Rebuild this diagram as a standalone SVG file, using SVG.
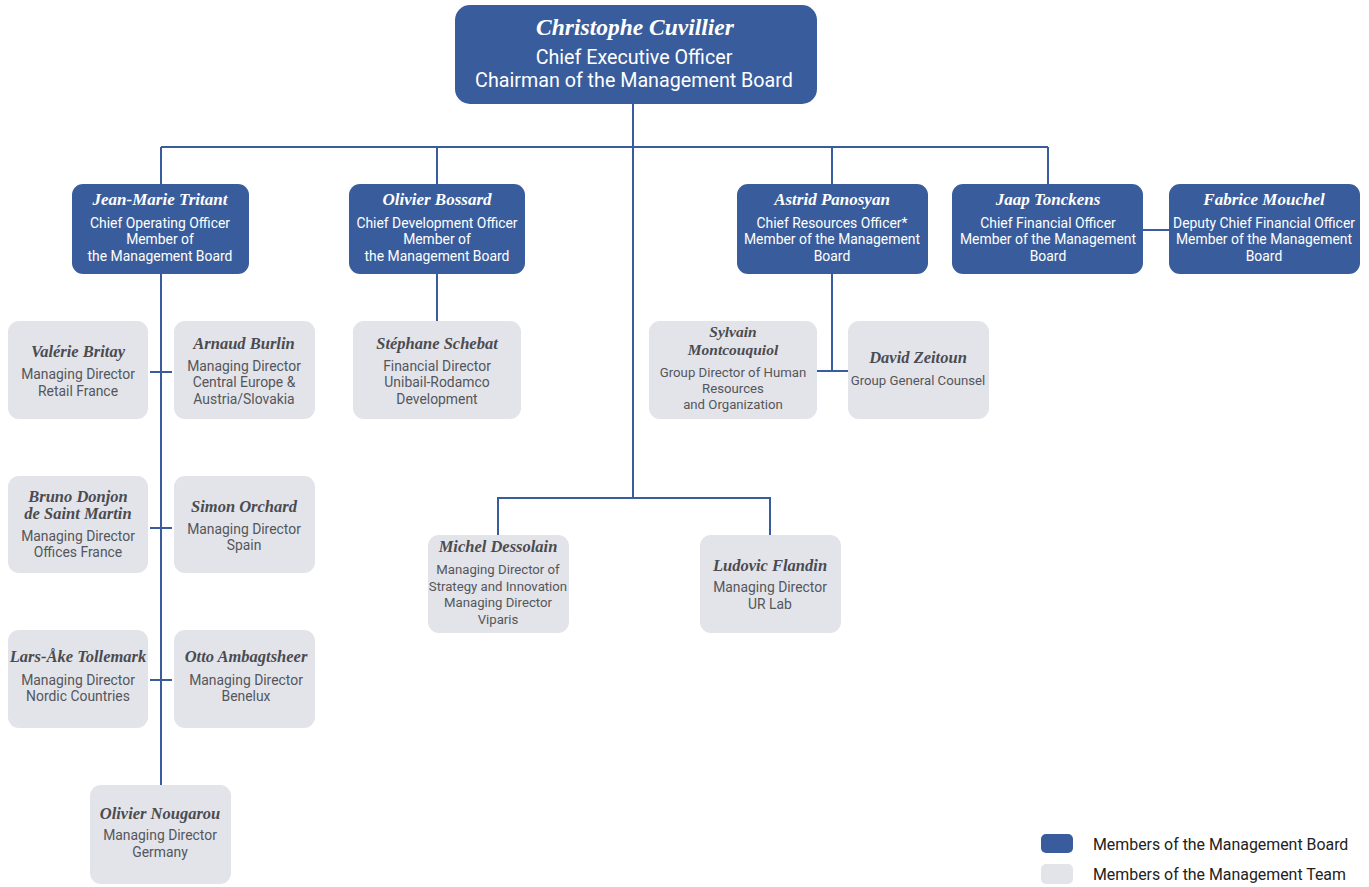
<svg xmlns="http://www.w3.org/2000/svg" width="1369" height="887" viewBox="0 0 1369 887">
<style>
.b{fill:#395d9c}
.t{fill:#e2e4ea}
.c{stroke:#395d9c;stroke-width:2;fill:none}
.nw{font-family:"Liberation Serif",serif;font-style:italic;font-weight:bold;font-size:17px;fill:#fff;text-anchor:middle}
.ng{font-family:"Liberation Serif",serif;font-style:italic;font-weight:bold;font-size:16.5px;fill:#4b4b50;text-anchor:middle}
.sw{font-family:Roboto,"Liberation Sans",sans-serif;font-size:13.9px;fill:#fff;text-anchor:middle}
.sg{font-family:Roboto,"Liberation Sans",sans-serif;font-size:13.9px;fill:#55565b;text-anchor:middle}
.sm{font-size:13.2px}
.lg{font-family:Roboto,"Liberation Sans",sans-serif;font-size:15.9px;fill:#222;}
</style>
<rect width="1369" height="887" fill="#fff"/>
<g id="connectors" class="c">
<path d="M633 104V498M161 147H1048M161 147V184M437 147V184M832 147V184M1048 147V184"/>
<path d="M1143 230H1169"/>
<path d="M161 274V785M150 372H172M150 528H172M150 680H172"/>
<path d="M437 274V321"/>
<path d="M832 274V371M817 371H848"/>
<path d="M498 498H770M498 497V535M770 497V535"/>
</g>
<g id="ceo"><rect class="b" x="455" y="5" width="362" height="99" rx="15"/>
<text class="nw" x="635" y="35" style="font-size:23.5px">Christophe Cuvillier</text>
<text class="sw" x="634" y="64" style="font-size:19.7px">Chief Executive Officer</text>
<text class="sw" x="634" y="87" style="font-size:19.7px">Chairman of the Management Board</text></g>
<g id="tritant"><rect class="b" x="72" y="184" width="177" height="90" rx="11"/>
<text class="nw" x="160" y="205">Jean-Marie Tritant</text>
<text class="sw" x="160" y="228">Chief Operating Officer</text>
<text class="sw" x="160" y="244">Member of</text>
<text class="sw" x="160" y="261">the Management Board</text></g>
<g id="bossard"><rect class="b" x="349" y="184" width="176" height="90" rx="11"/>
<text class="nw" x="437" y="205">Olivier Bossard</text>
<text class="sw" x="437" y="228">Chief Development Officer</text>
<text class="sw" x="437" y="244">Member of</text>
<text class="sw" x="437" y="261">the Management Board</text></g>
<g id="panosyan"><rect class="b" x="737" y="184" width="191" height="90" rx="11"/>
<text class="nw" x="832" y="205">Astrid Panosyan</text>
<text class="sw" x="832" y="228">Chief Resources Officer*</text>
<text class="sw" x="832" y="244">Member of the Management</text>
<text class="sw" x="832" y="261">Board</text></g>
<g id="tonckens"><rect class="b" x="952" y="184" width="191" height="90" rx="11"/>
<text class="nw" x="1048" y="205">Jaap Tonckens</text>
<text class="sw" x="1048" y="228">Chief Financial Officer</text>
<text class="sw" x="1048" y="244">Member of the Management</text>
<text class="sw" x="1048" y="261">Board</text></g>
<g id="mouchel"><rect class="b" x="1169" y="184" width="191" height="90" rx="11"/>
<text class="nw" x="1264" y="205">Fabrice Mouchel</text>
<text class="sw" x="1264" y="228">Deputy Chief Financial Officer</text>
<text class="sw" x="1264" y="244">Member of the Management</text>
<text class="sw" x="1264" y="261">Board</text></g>
<g id="britay"><rect class="t" x="8" y="321" width="140" height="98" rx="11"/>
<text class="ng" x="78" y="357">Valérie Britay</text>
<text class="sg" x="78" y="379">Managing Director</text>
<text class="sg" x="78" y="396">Retail France</text></g>
<g id="burlin"><rect class="t" x="174" y="321" width="141" height="98" rx="11"/>
<text class="ng" x="244" y="349">Arnaud Burlin</text>
<text class="sg" x="244" y="371">Managing Director</text>
<text class="sg" x="244" y="387">Central Europe &amp;</text>
<text class="sg" x="244" y="404">Austria/Slovakia</text></g>
<g id="schebat"><rect class="t" x="353" y="321" width="168" height="98" rx="11"/>
<text class="ng" x="437" y="349">Stéphane Schebat</text>
<text class="sg" x="437" y="371">Financial Director</text>
<text class="sg" x="437" y="387">Unibail-Rodamco</text>
<text class="sg" x="437" y="404">Development</text></g>
<g id="montcouquiol"><rect class="t" x="649" y="321" width="168" height="98" rx="11"/>
<text class="ng" x="733" y="337" style="font-size:15.5px">Sylvain</text>
<text class="ng" x="733" y="355" style="font-size:15.5px">Montcouquiol</text>
<text class="sg sm" x="733" y="377">Group Director of Human</text>
<text class="sg sm" x="733" y="393">Resources</text>
<text class="sg sm" x="733" y="409">and Organization</text></g>
<g id="zeitoun"><rect class="t" x="848" y="321" width="141" height="98" rx="11"/>
<text class="ng" x="918" y="363">David Zeitoun</text>
<text class="sg sm" x="918" y="385">Group General Counsel</text></g>
<g id="donjon"><rect class="t" x="8" y="476" width="140" height="97" rx="11"/>
<text class="ng" x="78" y="502">Bruno Donjon</text>
<text class="ng" x="78" y="519">de Saint Martin</text>
<text class="sg" x="78" y="541">Managing Director</text>
<text class="sg" x="78" y="557">Offices France</text></g>
<g id="orchard"><rect class="t" x="174" y="476" width="141" height="97" rx="11"/>
<text class="ng" x="244" y="512">Simon Orchard</text>
<text class="sg" x="244" y="534">Managing Director</text>
<text class="sg" x="244" y="550">Spain</text></g>
<g id="tollemark"><rect class="t" x="8" y="630" width="140" height="98" rx="11"/>
<text class="ng" x="78" y="662">Lars-Åke Tollemark</text>
<text class="sg" x="78" y="685">Managing Director</text>
<text class="sg" x="78" y="701">Nordic Countries</text></g>
<g id="ambagtsheer"><rect class="t" x="174" y="630" width="141" height="98" rx="11"/>
<text class="ng" x="246" y="662">Otto Ambagtsheer</text>
<text class="sg" x="246" y="685">Managing Director</text>
<text class="sg" x="246" y="701">Benelux</text></g>
<g id="nougarou"><rect class="t" x="90" y="785" width="141" height="99" rx="11"/>
<text class="ng" x="160" y="819">Olivier Nougarou</text>
<text class="sg" x="160" y="840">Managing Director</text>
<text class="sg" x="160" y="857">Germany</text></g>
<g id="dessolain"><rect class="t" x="428" y="535" width="141" height="98" rx="11"/>
<text class="ng" x="498" y="552">Michel Dessolain</text>
<text class="sg sm" x="498" y="574">Managing Director of</text>
<text class="sg sm" x="498" y="591">Strategy and Innovation</text>
<text class="sg sm" x="498" y="607">Managing Director</text>
<text class="sg sm" x="498" y="624">Viparis</text></g>
<g id="flandin"><rect class="t" x="700" y="535" width="141" height="98" rx="11"/>
<text class="ng" x="770" y="571">Ludovic Flandin</text>
<text class="sg" x="770" y="592">Managing Director</text>
<text class="sg" x="770" y="609">UR Lab</text></g>
<g id="legend">
<rect class="b" x="1041" y="834" width="32" height="19" rx="5"/>
<rect class="t" x="1041" y="864" width="32" height="20" rx="5"/>
<text class="lg" x="1093" y="850">Members of the Management Board</text>
<text class="lg" x="1093" y="880">Members of the Management Team</text>
</g>
</svg>
